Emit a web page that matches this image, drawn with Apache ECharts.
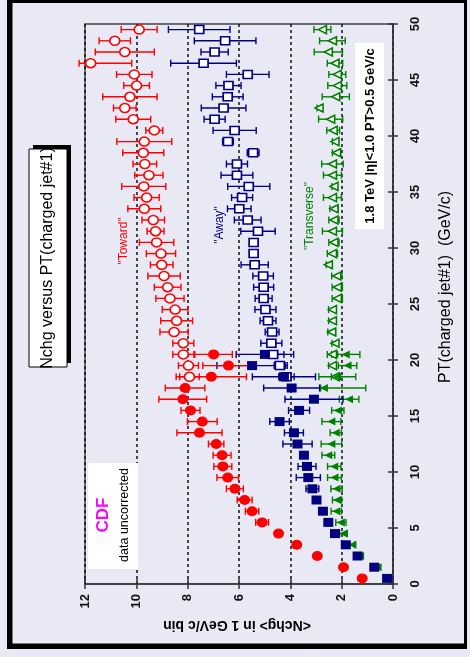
<!DOCTYPE html>
<html>
<head>
<meta charset="utf-8">
<script src="https://cdn.jsdelivr.net/npm/echarts@6.0.0/dist/echarts.min.js"></script>
<style>
  html, body { margin: 0; padding: 0; background: #e9e9f5; }
  #chart { width: 470px; height: 657px; }
</style>
</head>
<body>
<div id="chart"></div>
<script>
// Bin centres of PT(charged jet#1) in GeV/c
const ptFilled = [0.5, 1.5, 2.5, 3.5, 4.5, 5.5, 6.5, 7.5, 8.5, 9.5, 10.5, 11.5, 12.5, 13.5, 14.5, 15.5, 16.5, 17.5, 18.5, 19.5, 20.5];
const ptOpen = [18.5, 19.5, 20.5, 21.5, 22.5, 23.5, 24.5, 25.5, 26.5, 27.5, 28.5, 29.5, 30.5, 31.5, 32.5, 33.5,
                34.5, 35.5, 36.5, 37.5, 38.5, 39.5, 40.5, 41.5, 42.5, 43.5, 44.5, 45.5, 46.5, 47.5, 48.5, 49.5];

// <Nchg> per bin, low-PT sample (filled markers); errors are symmetric or [minus, plus]
const towardFilled = [1.20, 1.93, 2.95, 3.75, 4.46, 5.10, 5.49, 5.78, 6.16, 6.44, 6.63, 6.66, 6.89, 7.54, 7.43, 7.89, 8.19, 8.10, 7.08, 6.41, 6.99];
const towardFilledErr = [0, 0, 0, 0, 0.12, 0.25, 0.26, 0.29, 0.33, 0.42, 0.35, 0.35, 0.30, 0.88, 0.58, 0.37, 0.93, 0.77, 1.37, 1.0, 0.73];
const awayFilled = [0.23, 0.73, 1.38, 1.84, 2.26, 2.52, 2.73, 2.98, 3.14, 3.30, 3.35, 3.47, 3.72, 3.86, 4.42, 3.66, 3.08, 3.95, 4.25, 5.49, 4.99];
const awayFilledErr = [0, 0, 0, 0, 0, 0, 0, 0, 0.25, 0.47, 0.35, 0, 0.57, 0.37, 0.38, 0.41, 1.13, 1.09, 1.23, 1.37, 1.12];
const transFilled = [0.22, 0.60, 1.28, 1.58, 1.93, 2.03, 2.21, 2.18, 2.20, 2.28, 2.29, 2.52, 2.40, 2.23, 2.40, 2.15, 1.71, 2.69, 2.17, 1.77, 1.84];
const transFilledErr = [0, 0, 0, 0.1, 0.15, 0.2, 0.2, 0.18, 0.22, 0.27, 0.26, 0.25, 0.4, 0.22, 0.37, 0.24, 0.38, [1.63, 0.13], 0.72, 0.36, 0.55];

// <Nchg> per bin, high-PT sample (open markers)
const towardOpen = [7.93, 7.97, 8.17, 8.17, 8.53, 8.43, 8.49, 8.69, 8.78, 8.92, 9.01, 9.04, 9.21, 9.25, 9.34, 9.69,
                    9.60, 9.71, 9.51, 9.67, 9.73, 9.69, 9.30, 10.12, 10.45, 10.25, 9.99, 10.08, 11.78, 10.45, 10.84, 9.89];
const towardOpenErr = [0.38, 0.39, 0.41, 0.41, 0.55, 0.62, 0.50, 0.55, 0.52, 0.63, 0.44, 0.57, 0.67, 0.33, 0.44, 0.64,
                       0.49, 0.86, 0.55, 0.46, 0.80, 1.07, 0.33, 0.68, 0.44, 1.06, 0.50, 0.69, [1.6, 0.45], 1.15, 0.61, 0.70];
const awayOpen = [4.15, 4.41, 4.67, 4.74, 4.71, 4.87, 4.97, 5.04, 5.04, 5.06, 5.39, 5.43, 5.43, 5.26, 5.66, 5.99,
                  5.88, 5.62, 6.08, 6.08, 5.45, 6.43, 6.17, 6.95, 6.60, 6.44, 6.41, 5.66, 7.38, 6.95, 6.54, 7.55];
const awayOpenErr = [0.3, 0.22, 0.42, 0.41, 0.27, 0.31, 0.41, 0.33, 0.39, 0.40, 0.53, 0.15, 0.15, 0.67, 0.52, 0.46,
                     0.41, 0.82, 0.62, 0.41, 0.23, 0.21, 0.84, 0.41, 0.87, 0.6, 0.49, 0.83, 1.28, 0.53, 1.2, 1.2];
const transOpen = [2.25, 2.36, 2.36, 2.26, 2.39, 2.36, 2.36, 2.17, 2.17, 2.19, 2.52, 2.36, 2.30, 2.36, 2.30, 2.30,
                   2.36, 2.30, 2.36, 2.36, 2.20, 2.26, 2.33, 2.43, 2.88, 2.23, 2.17, 2.17, 2.26, 2.52, 2.36, 2.75];
const transOpenErr = [0.15, 0.15, 0.2, 0.12, 0.15, 0.15, 0.15, 0.2, 0.2, 0.2, 0.08, 0.2, 0.2, 0.39, 0.2, 0.16,
                      0.35, 0.08, 0.35, 0.42, 0.16, 0.1, 0.25, 0.47, 0.08, 0.53, 0.37, 0.33, 0.3, 0.55, 0.5, 0.33];

// Axis ticks
const nchgTicks = { min: 0, max: 12, interval: 2 };
const ptTicks = { min: 0, max: 50, interval: 5 };

const RED = '#ff0000', NAVY = '#000080', GREEN = '#008000';
const FONT = 'Liberation Sans, Arial, sans-serif';
// triangle marker pointing towards larger <Nchg>
const TRIANGLE = 'path://M0,5L10,0L10,10Z';

function points(vals, pts) {
  return vals.map((v, i) => [v, pts[i]]);
}
function bars(vals, errs, pts) {
  const out = [];
  vals.forEach((v, i) => {
    const e = Array.isArray(errs[i]) ? errs[i] : [errs[i], errs[i]];
    if (e[0] > 0 || e[1] > 0) out.push([pts[i], v - e[0], v + e[1]]);
  });
  return out;
}
function errorBarSeries(vals, errs, pts, color) {
  return {
    type: 'custom',
    data: bars(vals, errs, pts),
    encode: { x: [1, 2], y: 0 },
    silent: true,
    z: 3,
    renderItem(params, api) {
      const pt = api.value(0);
      const a = api.coord([api.value(1), pt]);
      const b = api.coord([api.value(2), pt]);
      const cap = 3.5;
      const st = { stroke: color, lineWidth: 1.4 };
      return {
        type: 'group',
        children: [
          { type: 'line', shape: { x1: a[0], y1: a[1], x2: b[0], y2: b[1] }, style: st },
          { type: 'line', shape: { x1: a[0], y1: a[1] - cap, x2: a[0], y2: a[1] + cap }, style: st },
          { type: 'line', shape: { x1: b[0], y1: b[1] - cap, x2: b[0], y2: b[1] + cap }, style: st }
        ]
      };
    }
  };
}
function markerSeries(vals, pts, symbol, size, fill, stroke, z) {
  return {
    type: 'scatter',
    data: points(vals, pts),
    symbol: symbol,
    symbolSize: size,
    z: z,
    itemStyle: { color: fill, borderColor: stroke, borderWidth: fill === '#ffffff' ? 1.6 : 0, opacity: 1 },
    emphasis: { disabled: true }
  };
}
function vtext(x, y, text, size, color, weight, rot) {
  return {
    type: 'text', x: x, y: y, rotation: rot === undefined ? Math.PI / 2 : rot, z: 20,
    style: { text: text, fill: color, font: (weight || 'normal') + ' ' + size + 'px ' + FONT, align: 'center', verticalAlign: 'middle' }
  };
}

const axisCommon = {
  type: 'value',
  axisLine: { show: true, lineStyle: { color: '#333', width: 1.5 } },
  axisTick: { show: true, length: 5, lineStyle: { color: '#333', width: 1.5 } },
  axisLabel: { rotate: 90, fontSize: 13, fontWeight: 'bold', color: '#111', fontFamily: FONT }
};
const innerTicks = {
  type: 'value',
  axisLine: { show: false },
  axisTick: { show: true, inside: true, length: 5, lineStyle: { color: '#333', width: 1.5 } },
  axisLabel: { show: false },
  splitLine: { show: false }
};

const chart = echarts.init(document.getElementById('chart'), null, { renderer: 'canvas' });
chart.setOption({
  animation: false,
  backgroundColor: '#e9e9f5',
  grid: { left: 85, right: 77, top: 24, bottom: 73, show: true, borderColor: '#444', borderWidth: 1.5, backgroundColor: 'transparent' },
  xAxis: [
    Object.assign({}, axisCommon, nchgTicks, {
      inverse: true, position: 'bottom',
      axisLabel: Object.assign({}, axisCommon.axisLabel, { margin: 10 }),
      splitLine: { show: true, lineStyle: { type: [3, 3], color: '#111', width: 1.5 } }
    }),
    Object.assign({}, innerTicks, nchgTicks, { inverse: true, position: 'bottom' })
  ],
  yAxis: [
    Object.assign({}, axisCommon, ptTicks, {
      position: 'right',
      axisLabel: Object.assign({}, axisCommon.axisLabel, { margin: 16 }),
      splitLine: { show: false }
    }),
    Object.assign({}, innerTicks, ptTicks, { position: 'right' })
  ],
  graphic: [
    // page frame
    { type: 'rect', z: -20, shape: { x: 7, y: -2, width: 460, height: 651 }, style: { fill: '#000' } },
    { type: 'rect', z: -19, shape: { x: 12.5, y: 3, width: 451.5, height: 640.5 }, style: { fill: '#e9e9f5' } },
    // title box with drop shadow
    { type: 'rect', z: 18, shape: { x: 33, y: 145, width: 38, height: 218 }, style: { fill: '#000' } },
    { type: 'rect', z: 19, shape: { x: 29, y: 149, width: 38, height: 218 }, style: { fill: '#fff', stroke: '#000', lineWidth: 1 } },
    vtext(48, 258, 'Nchg versus PT(charged jet#1)', 16, '#000'),
    // experiment box
    { type: 'rect', z: 19, shape: { x: 88, y: 463, width: 50, height: 106 }, style: { fill: '#fff' } },
    vtext(103, 515, 'CDF', 17, '#ff00ff', 'bold'),
    vtext(125, 515, 'data uncorrected', 12.5, '#000'),
    // cuts box
    { type: 'rect', z: 19, shape: { x: 355, y: 43, width: 29, height: 186 }, style: { fill: '#fff' } },
    vtext(370, 136, '1.8 TeV |\u03b7|<1.0 PT>0.5 GeV/c', 13, '#000', 'bold'),
    // region labels
    vtext(124, 241, '"Toward"', 12, RED),
    vtext(220, 225, '"Away"', 12, NAVY),
    vtext(310, 216, '"Transverse"', 12, GREEN),
    // axis names
    vtext(446, 287, 'PT(charged jet#1)  (GeV/c)', 16, '#000'),
    vtext(237, 625, '<Nchg> in 1 GeV/c bin', 14, '#000', 'bold', Math.PI)
  ],
  series: [
    errorBarSeries(transOpen, transOpenErr, ptOpen, GREEN),
    errorBarSeries(awayOpen, awayOpenErr, ptOpen, NAVY),
    errorBarSeries(towardOpen, towardOpenErr, ptOpen, RED),
    errorBarSeries(transFilled, transFilledErr, ptFilled, GREEN),
    errorBarSeries(awayFilled, awayFilledErr, ptFilled, NAVY),
    errorBarSeries(towardFilled, towardFilledErr, ptFilled, RED),
    markerSeries(transOpen, ptOpen, TRIANGLE, [8, 8], '#ffffff', GREEN, 4),
    markerSeries(awayOpen, ptOpen, 'rect', [9, 8], '#ffffff', NAVY, 4),
    markerSeries(towardOpen, ptOpen, 'circle', [10, 9], '#ffffff', RED, 4),
    markerSeries(transFilled, ptFilled, TRIANGLE, [8, 8], GREEN, GREEN, 5),
    markerSeries(awayFilled, ptFilled, 'rect', [10, 9], NAVY, NAVY, 6),
    markerSeries(towardFilled, ptFilled, 'circle', [11, 10], RED, RED, 7)
  ]
});
</script>
</body>
</html>
